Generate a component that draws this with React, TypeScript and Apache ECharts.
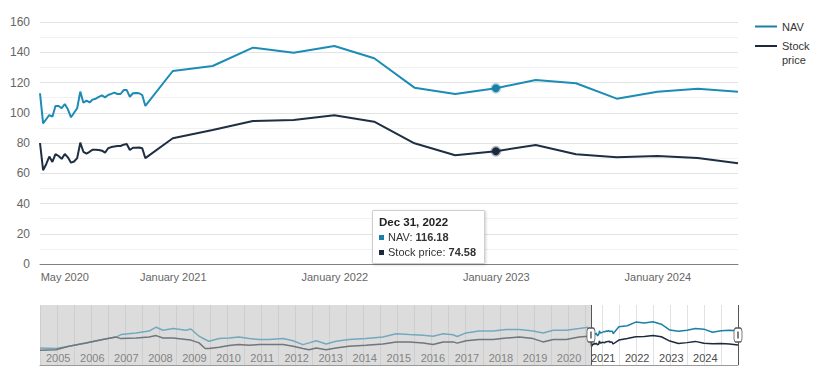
import React, { useEffect, useRef } from "react";
import * as echarts from "echarts";

// ---------- main chart data ----------
const DATES = [
  "2020-03-06", "2020-03-13", "2020-03-20", "2020-03-27",
  "2020-04-03", "2020-04-10", "2020-04-17", "2020-04-24",
  "2020-05-01", "2020-05-08", "2020-05-15", "2020-05-22", "2020-05-29",
  "2020-06-05", "2020-06-12", "2020-06-19", "2020-06-26",
  "2020-07-03", "2020-07-10", "2020-07-17", "2020-07-24", "2020-07-31",
  "2020-08-07", "2020-08-14", "2020-08-21", "2020-08-28",
  "2020-09-04", "2020-09-11", "2020-09-18", "2020-09-25",
  "2020-10-02", "2020-10-09", "2020-10-16", "2020-10-23", "2020-10-30",
  "2020-12-31", "2021-03-31", "2021-06-30", "2021-09-30",
  "2021-12-31", "2022-03-31", "2022-06-30", "2022-09-30",
  "2022-12-31", "2023-03-31", "2023-06-30", "2023-09-30",
  "2023-12-31", "2024-03-31", "2024-06-30",
];

const NAV = [
  112.9, 93.0, 95.7, 98.5, 97.4, 104.5, 104.5, 103.0, 105.8, 102.3, 97.0, 100.0,
  103.0, 114.0, 106.6, 108.0, 106.8, 108.7, 109.3, 110.5, 111.5, 110.2, 111.7,
  112.5, 113.3, 112.4, 112.4, 115.0, 115.0, 110.6, 112.9, 113.0, 112.9, 111.7,
  104.5,
  127.6, 130.9, 143.0, 139.7, 144.1, 136.0, 116.6, 112.4, 116.18, 121.7, 119.5,
  109.3, 113.9, 115.9, 113.9,
];

const STOCK = [
  80.0, 62.0, 66.0, 71.0, 67.5, 72.7, 71.4, 69.5, 72.7, 70.5, 67.0, 67.8, 70.0,
  80.2, 74.2, 73.0, 74.2, 75.6, 75.6, 75.4, 74.9, 73.6, 76.5, 77.3, 77.7, 78.0,
  78.0, 78.9, 79.3, 75.4, 76.9, 76.9, 77.0, 76.5, 70.0,
  83.1, 88.6, 94.5, 95.2, 98.3, 94.1, 79.8, 71.9, 74.58, 78.7, 72.5, 70.5, 71.4,
  70.1, 66.6,
];

const X_LABEL_DATES = ["2020-05-01", "2021-01-01", "2022-01-01", "2023-01-01", "2024-01-01"];
const X_LABELS = ["May 2020", "January 2021", "January 2022", "January 2023", "January 2024"];

const Y_MIN = 0;
const Y_MAX = 160;
const Y_STEP = 20;

const TOOLTIP_DATE = "2022-12-31";

// ---------- navigator (history) data ----------
const HIST_YEARS = [
  2004.0, 2004.47, 2004.85, 2005.35, 2005.84, 2006.23, 2006.38, 2006.82, 2007.2, 2007.41,
  2007.61, 2007.91, 2008.29, 2008.43, 2008.67, 2008.85, 2008.96, 2009.26, 2009.55, 2009.84,
  2010.14, 2010.43, 2010.73, 2011.14, 2011.43, 2011.72, 2011.9, 2012.11, 2012.4, 2012.69,
  2013.07, 2013.57, 2014.07, 2014.46, 2014.84, 2015.25, 2015.54, 2015.84, 2016.13, 2016.25,
  2016.51, 2016.89, 2017.3, 2017.69, 2018.07, 2018.48, 2018.77, 2019.07, 2019.45, 2019.83,
  2020.09,
];
const HIST_NAV = [
  57, 55, 62.6, 73, 85, 93, 101.5, 107, 113, 126, 116, 121.6, 116, 120, 96, 85, 79, 88, 90,
  93, 88, 85, 85, 88, 81, 68, 73.7, 81, 70, 79, 85, 88, 93, 104, 101.5, 99, 96, 104, 101, 95,
  107, 113, 113, 118, 118, 113, 107, 116, 116, 121.6, 126,
];
const HIST_STOCK = [
  49, 51, 62.6, 73, 85, 93, 88, 90, 93, 98, 90, 90, 85, 83, 73.7, 55, 55, 59, 65, 68, 66, 68,
  68, 68, 62.6, 55, 51, 57, 51, 57, 62.6, 65.5, 70, 77, 77, 73.7, 68, 77, 77, 73, 81, 85, 85,
  90, 93, 88, 77, 85, 85, 93, 96,
];
const NAV_AXIS_START = 2004;
const NAV_AXIS_LABELS = [
  "2005", "2006", "2007", "2008", "2009", "2010", "2011", "2012", "2013", "2014",
  "2015", "2016", "2017", "2018", "2019", "2020", "2021", "2022", "2023", "2024",
];
const NAV_Y_MAX = 200;

const LEGEND_LABELS: Record<string, string> = { NAV: "NAV", "Stock price": "Stock\nprice" };
const MONTHS = ["Jan", "Feb", "Mar", "Apr", "May", "Jun", "Jul", "Aug", "Sep", "Oct", "Nov", "Dec"];

// ---------- helpers ----------
const ts = (d: string) => {
  const [y, m, dd] = d.split("-").map(Number);
  return Date.UTC(y, m - 1, dd);
};
const decYear = (d: string) => {
  const y = Number(d.slice(0, 4));
  const s = Date.UTC(y, 0, 1);
  const e = Date.UTC(y + 1, 0, 1);
  return y + (ts(d) - s) / (e - s);
};

const TEAL = "#1a80a6";
const NAVY = "#1c2a3d";
const FONT = '"Liberation Sans", Arial, Helvetica, sans-serif';
// legend icon: a 2px line at the top of a 22x16 box, so it sits beside the first text line
const TOP_LINE_ICON = "path://M0,0H22V2H0Z M0,15.9H0.05V16H0Z";

export default function App() {
  const ref = useRef<HTMLDivElement>(null);

  useEffect(() => {
    document.body.style.margin = "0";
    if (!ref.current) return;
    const chart = echarts.init(ref.current, undefined, { renderer: "svg" });

    const navData = DATES.map((d, i) => [ts(d), NAV[i]]);
    const stockData = DATES.map((d, i) => [ts(d), STOCK[i]]);
    const navNavData = DATES.map((d, i) => [decYear(d), NAV[i]]);
    const stockNavData = DATES.map((d, i) => [decYear(d), STOCK[i]]);
    const selStart = decYear(DATES[0]);
    const selEnd = decYear(DATES[DATES.length - 1]);
    const labelTs = X_LABEL_DATES.map(ts);

    const option: any = {
      animation: false,
      textStyle: { fontFamily: FONT },
      grid: [
        { left: 40, top: 22, width: 698, height: 242 },
        { left: 40, top: 305, width: 698, height: 60 },
      ],
      legend: [
        {
          data: ["NAV"],
          orient: "vertical",
          left: 750,
          top: 16,
          icon: "rect",
          itemWidth: 22,
          itemHeight: 2,
          selectedMode: false,
          formatter: (n: string) => LEGEND_LABELS[n],
          textStyle: { fontSize: 11, color: "#333", fontFamily: FONT },
        },
        {
          data: ["Stock price"],
          orient: "vertical",
          left: 750,
          top: 34,
          icon: TOP_LINE_ICON,
          itemWidth: 22,
          itemHeight: 16,
          selectedMode: false,
          formatter: (n: string) => LEGEND_LABELS[n],
          textStyle: { fontSize: 11, color: "#333", lineHeight: 14, fontFamily: FONT },
        },
      ],
      tooltip: {
        trigger: "axis",
        triggerOn: "none",
        alwaysShowContent: true,
        axisPointer: { type: "none" },
        position: [372, 210],
        transitionDuration: 0,
        backgroundColor: "rgba(255,255,255,0.97)",
        borderColor: "#cfcfcf",
        borderWidth: 1,
        padding: [4, 8, 4, 6],
        extraCssText: "box-shadow: 1px 1px 3px rgba(0,0,0,0.18); border-radius: 1px;",
        textStyle: { fontFamily: FONT, fontSize: 11, color: "#333" },
        formatter: (params: any[]) => {
          const list = params.filter((p) => p.seriesIndex <= 1);
          if (!list.length) return "";
          const d = new Date(list[0].value[0]);
          const head = `${MONTHS[d.getUTCMonth()]} ${d.getUTCDate()}, ${d.getUTCFullYear()}`;
          let html = `<div style="font-weight:bold;font-size:11.5px;line-height:15px;color:#222;font-family:${FONT}">${head}</div>`;
          list.forEach((p) => {
            html += `<div style="font-size:11px;line-height:14.5px;color:#333;font-family:${FONT}"><span style="display:inline-block;width:5px;height:5px;background:${p.color};margin-right:4px;vertical-align:1px"></span>${p.seriesName}: <b>${Number(p.value[1]).toFixed(2)}</b></div>`;
          });
          return html;
        },
      },
      xAxis: [
        {
          type: "value",
          gridIndex: 0,
          min: ts(DATES[0]),
          max: ts(DATES[DATES.length - 1]),
          axisLine: { lineStyle: { color: "#808080", width: 1 } },
          axisTick: { show: false },
          splitLine: { show: false },
          axisLabel: {
            customValues: labelTs,
            formatter: (v: number) => {
              const i = labelTs.indexOf(v);
              return i >= 0 ? X_LABELS[i] : "";
            },
            color: "#666",
            fontSize: 11,
            margin: 7,
            fontFamily: FONT,
          },
        },
        {
          type: "value",
          gridIndex: 1,
          min: NAV_AXIS_START,
          max: selEnd,
          interval: 0.5,
          axisLine: { lineStyle: { color: "#9a9a9a", width: 1 } },
          axisTick: { show: false },
          splitLine: { show: true, lineStyle: { color: "#e2e2e2", width: 1 } },
          axisLabel: {
            inside: true,
            align: "left",
            padding: [0, 0, 0, 6],
            margin: 2,
            color: "#4a4a4a",
            fontSize: 11,
            fontFamily: FONT,
            showMaxLabel: false,
            formatter: (v: number) => {
              if (Math.abs(v - Math.round(v)) > 1e-6) return "";
              return NAV_AXIS_LABELS[Math.round(v) - NAV_AXIS_START] ?? "";
            },
          },
        },
      ],
      yAxis: [
        {
          type: "value",
          gridIndex: 0,
          min: Y_MIN,
          max: Y_MAX,
          interval: Y_STEP,
          axisLine: { show: false },
          axisTick: { show: false },
          axisLabel: { color: "#666", fontSize: 12, margin: 10, fontFamily: FONT },
          splitLine: { lineStyle: { color: "#e3e3e3", width: 1 } },
          minorTick: { show: false, splitNumber: 2 },
          minorSplitLine: { show: true, lineStyle: { color: "#f1f1f1", width: 1 } },
        },
        { type: "value", gridIndex: 1, min: 0, max: NAV_Y_MAX, show: false },
      ],
      series: [
        {
          name: "NAV",
          type: "line",
          xAxisIndex: 0,
          yAxisIndex: 0,
          data: navData,
          color: TEAL,
          lineStyle: { width: 2, color: TEAL },
          showSymbol: false,
          symbol: "circle",
          symbolSize: 8,
          emphasis: {
            scale: false,
            lineStyle: { width: 2 },
            itemStyle: { color: TEAL, borderColor: "rgba(26,128,166,0.3)", borderWidth: 3 },
          },
        },
        {
          name: "Stock price",
          type: "line",
          xAxisIndex: 0,
          yAxisIndex: 0,
          data: stockData,
          color: NAVY,
          lineStyle: { width: 2, color: NAVY },
          showSymbol: false,
          symbol: "circle",
          symbolSize: 8,
          emphasis: {
            scale: false,
            lineStyle: { width: 2 },
            itemStyle: { color: NAVY, borderColor: "rgba(28,42,61,0.3)", borderWidth: 3 },
          },
        },
        {
          name: "nav-hist-nav",
          type: "line",
          xAxisIndex: 1,
          yAxisIndex: 1,
          silent: true,
          data: HIST_YEARS.map((y, i) => [y, HIST_NAV[i]]),
          lineStyle: { width: 1.5, color: "#73a9bf" },
          itemStyle: { color: "#73a9bf" },
          showSymbol: false,
          markArea: {
            silent: true,
            itemStyle: { color: "rgba(185,185,185,0.5)" },
            data: [[{ xAxis: NAV_AXIS_START }, { xAxis: selStart }]],
          },
        },
        {
          name: "nav-hist-stock",
          type: "line",
          xAxisIndex: 1,
          yAxisIndex: 1,
          silent: true,
          data: HIST_YEARS.map((y, i) => [y, HIST_STOCK[i]]),
          lineStyle: { width: 1.5, color: "#6f767c" },
          itemStyle: { color: "#6f767c" },
          showSymbol: false,
        },
        {
          name: "nav-sel-nav",
          type: "line",
          xAxisIndex: 1,
          yAxisIndex: 1,
          silent: true,
          data: navNavData,
          lineStyle: { width: 1.5, color: TEAL },
          itemStyle: { color: TEAL },
          showSymbol: false,
          markLine: {
            silent: true,
            symbol: "none",
            label: { show: false },
            lineStyle: { color: "#555", width: 1, type: "solid" },
            data: [{ xAxis: selStart }, { xAxis: selEnd }],
          },
          markPoint: {
            silent: true,
            label: { show: false },
            data: [
              { coord: [selStart, NAV_Y_MAX / 2], symbol: "roundRect", symbolSize: [8, 14], itemStyle: { color: "#fff", borderColor: "#555", borderWidth: 1 } },
              { coord: [selEnd, NAV_Y_MAX / 2], symbol: "roundRect", symbolSize: [8, 14], itemStyle: { color: "#fff", borderColor: "#555", borderWidth: 1 } },
              { coord: [selStart, NAV_Y_MAX / 2], symbol: "rect", symbolSize: [1.5, 7], itemStyle: { color: "#555" } },
              { coord: [selEnd, NAV_Y_MAX / 2], symbol: "rect", symbolSize: [1.5, 7], itemStyle: { color: "#555" } },
            ],
          },
        },
        {
          name: "nav-sel-stock",
          type: "line",
          xAxisIndex: 1,
          yAxisIndex: 1,
          silent: true,
          data: stockNavData,
          lineStyle: { width: 1.5, color: NAVY },
          itemStyle: { color: NAVY },
          showSymbol: false,
        },
      ],
    };

    chart.setOption(option);
    chart.dispatchAction({
      type: "showTip",
      seriesIndex: 0,
      dataIndex: DATES.indexOf(TOOLTIP_DATE),
    });

    return () => chart.dispose();
  }, []);

  return <div ref={ref} style={{ width: 820, height: 372 }} />;
}
